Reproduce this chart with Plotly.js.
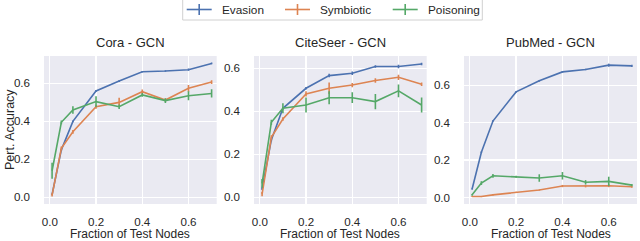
<!DOCTYPE html>
<html>
<head>
<meta charset="utf-8">
<script src="https://cdn.plot.ly/plotly-3.0.1.min.js"></script>
<style>html,body{margin:0;padding:0;background:#fff;}#chart{width:640px;height:241px;}</style>
</head>
<body>
<div id="chart"></div>
<script>
const fractions = [0.01, 0.05, 0.1, 0.2, 0.3, 0.4, 0.5, 0.6, 0.7];
const seriesNames = ["Evasion", "Symbiotic", "Poisoning"];
const panelTitles = ["Cora - GCN", "CiteSeer - GCN", "PubMed - GCN"];
const xTicks = [0.0, 0.2, 0.4, 0.6];
const yTicks = [0.0, 0.2, 0.4, 0.6];

// Cora
const coraEvasion = [0.015, 0.25, 0.40, 0.56, 0.612, 0.661, 0.665, 0.672, 0.705];
const coraEvasionErr = [0.004, 0.005, 0.005, 0.005, 0.005, 0.004, 0.004, 0.006, 0.005];
const coraSymbiotic = [0.012, 0.258, 0.345, 0.477, 0.50, 0.556, 0.512, 0.574, 0.607];
const coraSymbioticErr = [0.008, 0.01, 0.01, 0.01, 0.024, 0.012, 0.008, 0.018, 0.01];
const coraPoisoning = [0.14, 0.395, 0.46, 0.504, 0.477, 0.539, 0.509, 0.535, 0.547];
const coraPoisoningErr = [0.042, 0.01, 0.02, 0.028, 0.012, 0.01, 0.012, 0.024, 0.022];

// CiteSeer
const citeEvasion = [0.04, 0.267, 0.414, 0.507, 0.566, 0.577, 0.608, 0.608, 0.62];
const citeEvasionErr = [0.006, 0.006, 0.006, 0.006, 0.008, 0.008, 0.006, 0.008, 0.006];
const citeSymbiotic = [0.015, 0.279, 0.364, 0.481, 0.507, 0.522, 0.543, 0.558, 0.526];
const citeSymbioticErr = [0.01, 0.01, 0.008, 0.012, 0.027, 0.01, 0.01, 0.012, 0.008];
const citePoisoning = [0.065, 0.349, 0.414, 0.429, 0.463, 0.463, 0.445, 0.495, 0.429];
const citePoisoningErr = [0.02, 0.012, 0.023, 0.035, 0.03, 0.025, 0.035, 0.03, 0.035];

// PubMed
const pubEvasion = [0.045, 0.242, 0.409, 0.565, 0.624, 0.672, 0.685, 0.708, 0.704];
const pubEvasionErr = [0.004, 0.004, 0.004, 0.004, 0.004, 0.004, 0.004, 0.008, 0.006];
const pubSymbiotic = [0.005, 0.005, 0.014, 0.027, 0.04, 0.061, 0.06, 0.063, 0.057];
const pubSymbioticErr = [0.003, 0.003, 0.003, 0.003, 0.003, 0.006, 0.006, 0.008, 0.005];
const pubPoisoning = [0.014, 0.077, 0.116, 0.111, 0.104, 0.116, 0.081, 0.086, 0.066];
const pubPoisoningErr = [0.005, 0.01, 0.01, 0.005, 0.02, 0.02, 0.012, 0.025, 0.006];

const colors = ["#4C72B0", "#DD8452", "#55A868"];
const panels = [
  {vals: [coraEvasion, coraSymbiotic, coraPoisoning], errs: [coraEvasionErr, coraSymbioticErr, coraPoisoningErr], yr: [-0.035, 0.744]},
  {vals: [citeEvasion, citeSymbiotic, citePoisoning], errs: [citeEvasionErr, citeSymbioticErr, citePoisoningErr], yr: [-0.031, 0.657]},
  {vals: [pubEvasion, pubSymbiotic, pubPoisoning], errs: [pubEvasionErr, pubSymbioticErr, pubPoisoningErr], yr: [-0.035, 0.757]}
];

const FONT = "Liberation Sans, Arial, sans-serif";
const TXT = "#262626";
const traces = [];
panels.forEach((p, pi) => {
  const ax = pi === 0 ? "" : String(pi + 1);
  p.vals.forEach((v, si) => {
    traces.push({
      x: fractions, y: v, type: "scatter", mode: "lines", name: seriesNames[si],
      xaxis: "x" + ax, yaxis: "y" + ax,
      line: {color: colors[si], width: 1.6},
      error_y: {type: "data", array: p.errs[si], visible: true, color: colors[si], thickness: 1.6, width: 0},
      showlegend: false, hoverinfo: "skip"
    });
  });
});

const L = 44, R = 3, T = 56, B = 37;
const W = 640 - L - R, H = 241 - T - B;
const PX = v => (v - L) / W;          // pixel x -> paper x
const PY = v => (241 - B - v) / H;    // pixel y -> paper y
const doms = [[PX(44), PX(216.7)], [PX(254), PX(426.7)], [PX(464), PX(637)]];

const layout = {
  width: 640, height: 241,
  margin: {l: L, r: R, t: T, b: B, pad: 0, autoexpand: false},
  paper_bgcolor: "#ffffff", plot_bgcolor: "#EAEAF2",
  font: {family: FONT, size: 12, color: TXT},
  showlegend: false,
  annotations: [],
  shapes: []
};
panels.forEach((p, pi) => {
  const ax = pi === 0 ? "" : String(pi + 1);
  layout["xaxis" + ax] = {
    domain: doms[pi], range: [-0.025, 0.722], tickvals: xTicks, ticktext: xTicks.map(v => v.toFixed(1)),
    showgrid: true, gridcolor: "#ffffff", gridwidth: 1.3, zeroline: false, showline: false, ticks: "",
    tickfont: {family: FONT, size: 11.6, color: TXT}, ticklabelstandoff: 9, anchor: "y" + ax
  };
  layout["yaxis" + ax] = {
    domain: [0, 1], range: p.yr, tickvals: yTicks, ticktext: yTicks.map(v => v.toFixed(1)),
    showgrid: true, gridcolor: "#ffffff", gridwidth: 1.3, zeroline: false, showline: false, ticks: "",
    tickfont: {family: FONT, size: 11.6, color: TXT}, ticklabelstandoff: 13, anchor: "x" + ax
  };
  const cx = (doms[pi][0] + doms[pi][1]) / 2;
  layout.annotations.push({text: panelTitles[pi], xref: "paper", yref: "paper", x: cx, y: PY(42),
    xanchor: "center", yanchor: "middle", showarrow: false, font: {family: FONT, size: 13, color: TXT}});
  layout.annotations.push({text: "Fraction of Test Nodes", xref: "paper", yref: "paper", x: cx, y: PY(234),
    xanchor: "center", yanchor: "middle", showarrow: false, font: {family: FONT, size: 12, color: TXT}});
});
layout.annotations.push({text: "Pert. Accuracy", xref: "paper", yref: "paper", x: PX(10), y: 0.5,
  xanchor: "center", yanchor: "middle", textangle: -90, showarrow: false, font: {family: FONT, size: 12.5, color: TXT}});

// legend box drawn at the top
layout.shapes.push({type: "rect", xref: "paper", yref: "paper", x0: PX(182.7), x1: PX(482.3), y0: PY(20), y1: PY(-2),
  line: {color: "#d0d0d0", width: 1}, fillcolor: "#ffffff", layer: "above"});
const legLineX = [186.7, 285, 392.7];
const legTextX = [221, 319, 426.7];
seriesNames.forEach((n, si) => {
  layout.shapes.push({type: "line", xref: "paper", yref: "paper", x0: PX(legLineX[si]), x1: PX(legLineX[si] + 25),
    y0: PY(9.5), y1: PY(9.5), line: {color: colors[si], width: 1.6}, layer: "above"});
  layout.shapes.push({type: "line", xref: "paper", yref: "paper", x0: PX(legLineX[si] + 12.5), x1: PX(legLineX[si] + 12.5),
    y0: PY(4), y1: PY(15), line: {color: colors[si], width: 1.6}, layer: "above"});
  layout.annotations.push({text: n, xref: "paper", yref: "paper", x: PX(legTextX[si]), y: PY(10),
    xanchor: "left", yanchor: "middle", showarrow: false, xshift: -1, font: {family: FONT, size: 11.8, color: TXT}});
});

Plotly.newPlot("chart", traces, layout, {staticPlot: true, displayModeBar: false});
</script>
</body>
</html>
